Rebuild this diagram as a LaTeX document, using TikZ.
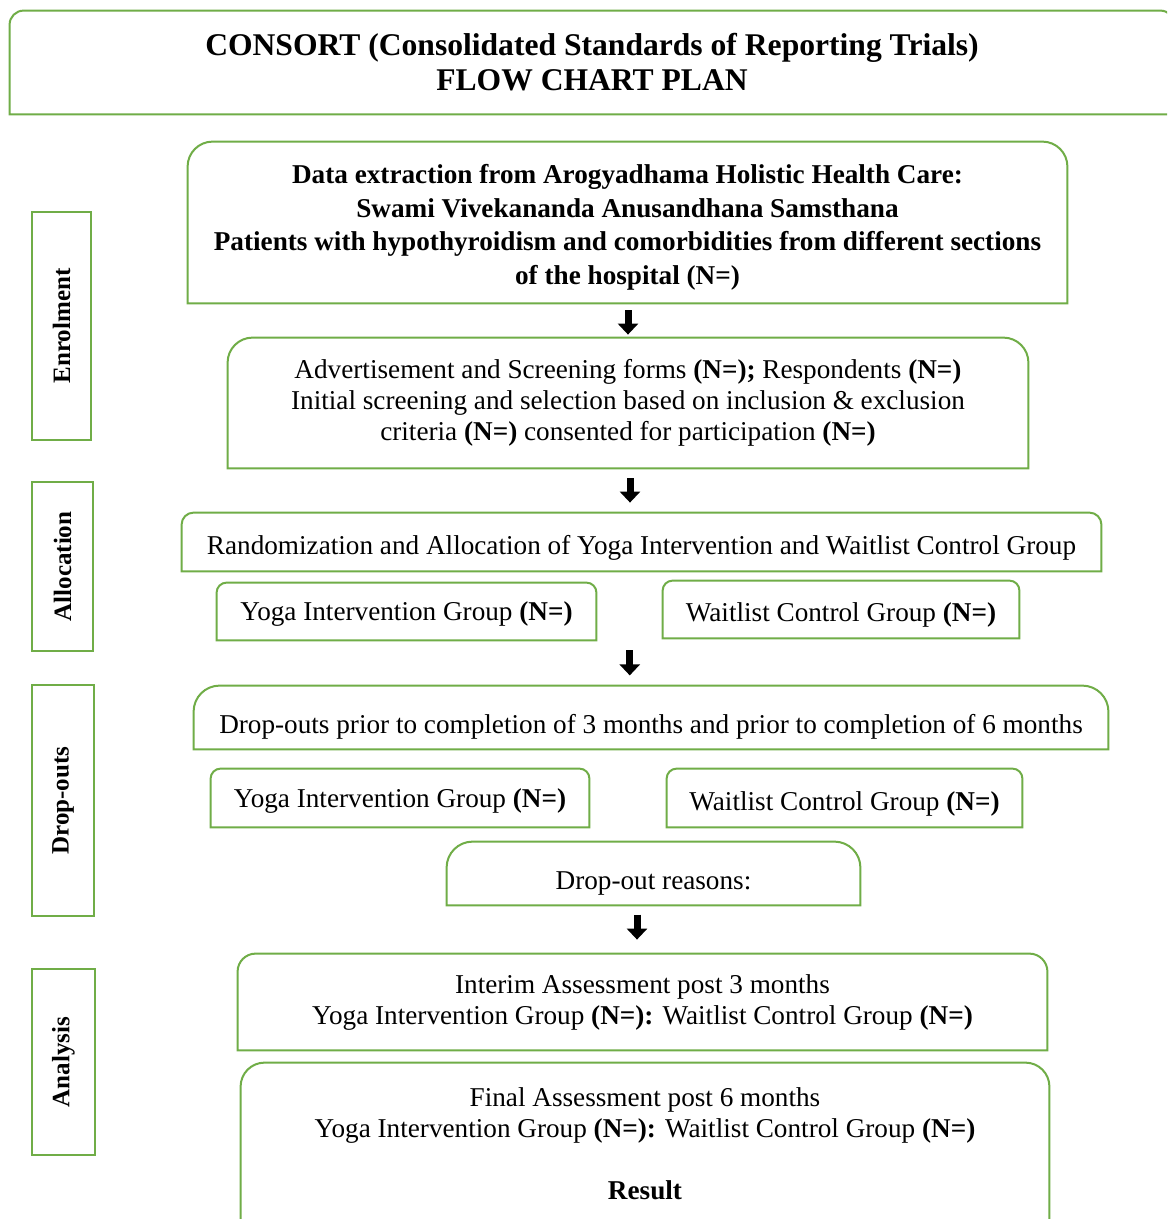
\documentclass[tikz,border=0pt]{standalone}
\usepackage{fontspec}
\setmainfont{Liberation Serif}
\usetikzlibrary{arrows.meta, positioning, calc}
\definecolor{boxgreen}{RGB}{112,173,71}
\tikzset{%
   % green frame with the two top corners rounded, flat bottom
   boxline/.style={
      draw=boxgreen,
      line width=1pt
   },
   topbox/.style={
      align=center,
      inner sep=0pt,
      font=\fontsize{13.6}{15.5}\selectfont,
      append after command={\pgfextra{\draw[boxline]
         (\tikzlastnode.south west) -- ([yshift=-#1]\tikzlastnode.north west)
         arc[start angle=180, end angle=90, radius=#1]
         -- ([xshift=-#1]\tikzlastnode.north east)
         arc[start angle=90, end angle=0, radius=#1]
         -- (\tikzlastnode.south east) -- cycle;}}
   },
   sidebox/.style={
      boxline,
      rotate=90,
      inner sep=0pt,
      font=\bfseries\fontsize{12.5}{14}\selectfont
   },
   blockarrow/.style={
      line width=3.5pt,
      -{Triangle[width=10pt, length=5.5pt]}
   },
}

\begin{document}
\begin{tikzpicture}[x=0.5pt, y=-0.5pt]
\useasboundingbox (0,0) rectangle (1167,1219);
\clip (0,0) rectangle (1167,1219);
\fill[white] (0,0) rectangle (1167,1219);

% title
\node[topbox=7pt, minimum width=582pt, minimum height=51.5pt,
      font=\bfseries\fontsize{15.8}{17.5}\selectfont] (title) at (592,62.5)
   {CONSORT (Consolidated Standards of Reporting Trials)\\FLOW CHART PLAN};

% stages on the left
\node[sidebox, minimum width=114pt, minimum height=29.5pt] (enrol) at (61.5,326) {Enrolment};
\node[sidebox, minimum width=84.5pt, minimum height=30.5pt] (alloc) at (62.5,566.5) {Allocation};
\node[sidebox, minimum width=115.5pt, minimum height=31pt] (drop) at (63,800.5) {Drop-outs};
\node[sidebox, minimum width=93pt, minimum height=31.5pt] (anal) at (63.5,1062) {Analysis};

% enrolment
\node[topbox=12.5pt, minimum width=439.5pt, minimum height=80.5pt,
      font=\bfseries\fontsize{13.6}{16.75}\selectfont] (data) at (627.5,222.5)
   {\rule{0pt}{14.5pt}Data extraction from Arogyadhama Holistic Health Care:\\
    Swami Vivekananda Anusandhana Samsthana\\
    Patients with hypothyroidism and comorbidities from different sections\\
    of the hospital (N=)};
\node[topbox=12.5pt, minimum width=400pt, minimum height=65pt] (screen) at (628,403)
   {Advertisement and Screening forms \textbf{(N=);} Respondents \textbf{(N=)}\\
    Initial screening and selection based on inclusion \& exclusion\\
    criteria \textbf{(N=)} consented for participation \textbf{(N=)}};

% allocation
\node[topbox=6pt, minimum width=459.5pt, text height=20.5pt, text depth=8.5pt] (rand) at (641.5,542)
   {Randomization and Allocation of Yoga Intervention and Waitlist Control Group};
\node[topbox=5pt, minimum width=189.5pt, text height=18.5pt, text depth=10pt] (yogaA) at (406.5,611.5)
   {Yoga Intervention Group \textbf{(N=)}};
\node[topbox=5pt, minimum width=178pt, text height=20pt, text depth=8.5pt] (waitA) at (841,609.5)
   {Waitlist Control Group \textbf{(N=)}};

% drop-outs
\node[topbox=13pt, minimum width=457pt, text height=23.5pt, text depth=8pt] (prior) at (651,717.5)
   {Drop-outs prior to completion of 3 months and prior to completion of 6 months};
\node[topbox=5pt, minimum width=189pt, text height=19pt, text depth=10pt] (yogaD) at (400,798)
   {Yoga Intervention Group \textbf{(N=)}};
\node[topbox=5pt, minimum width=177.5pt, text height=20.5pt, text depth=8.5pt] (waitD) at (844.5,798)
   {Waitlist Control Group \textbf{(N=)}};
\node[topbox=13pt, minimum width=206.5pt, text height=23.5pt, text depth=8pt] (reason) at (653.5,873.5)
   {Drop-out reasons:};

% analysis
\node[topbox=9pt, minimum width=404.5pt, minimum height=48pt] (interim) at (642.5,1002)
   {Interim Assessment post 3 months\\
    Yoga Intervention Group \textbf{(N=):} Waitlist Control Group \textbf{(N=)}};
\node[topbox=12pt, minimum width=404pt, minimum height=80.5pt] (final) at (645,1143.5)
   {Final Assessment post 6 months\\
    Yoga Intervention Group \textbf{(N=):} Waitlist Control Group \textbf{(N=)}\\[15.5pt]
    \textbf{Result}};

% arrows
\draw[blockarrow] ($(data.south)+(0.5,7)$) -- ($(screen.north)+(0,-3)$);
\draw[blockarrow] ($(screen.south)+(2,10)$) -- ($(rand.north)+(-11.5,-10)$);
\draw[blockarrow] ($(yogaA.south)!.5!(waitA.south)+(6,11)$) -- ($(yogaA.south)!.5!(waitA.south)+(6,36)$);
\draw[blockarrow] ($(interim.north)+(-5.5,-39)$) -- ($(interim.north)+(-5.5,-14)$);
\end{tikzpicture}
\end{document}
